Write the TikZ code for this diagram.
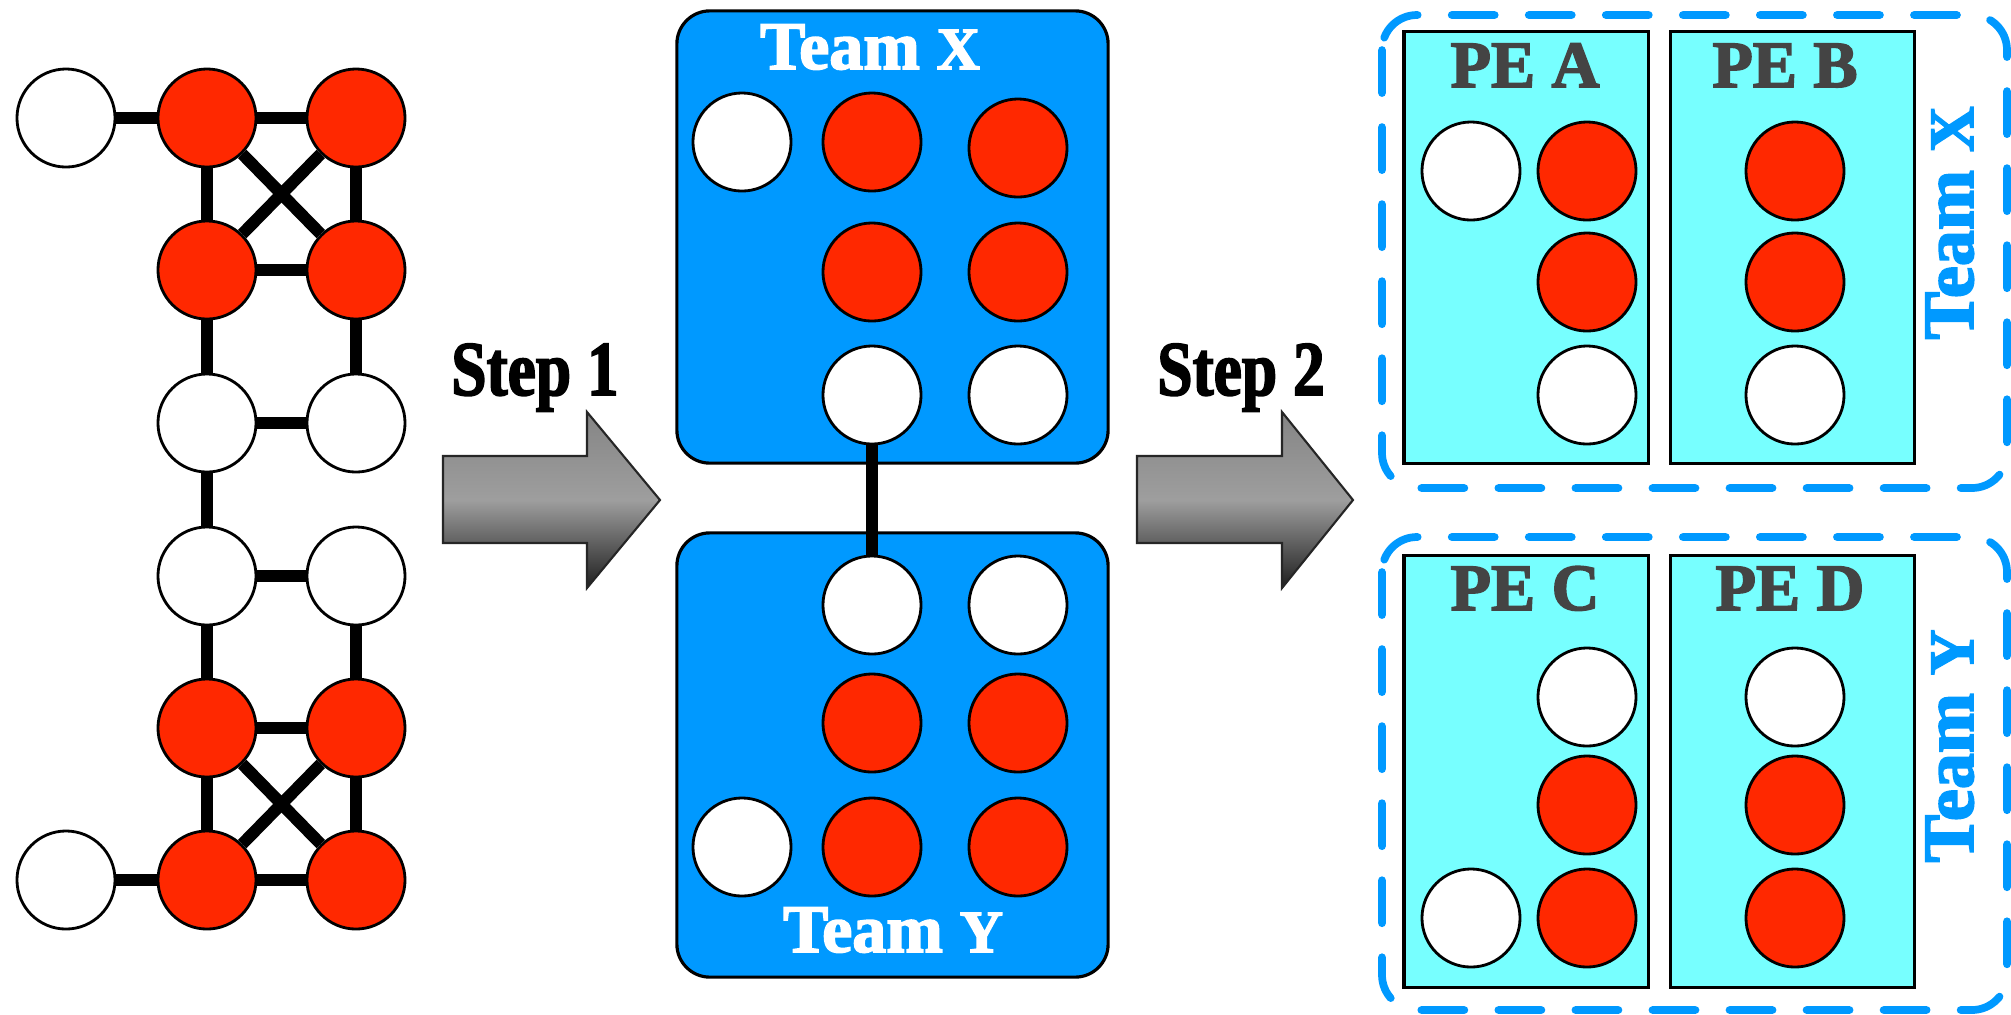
\documentclass[tikz,border=0pt]{standalone}
\usepackage{fontspec}
\setmainfont{Liberation Serif}
\newfontfamily\heavyserif{Liberation Serif}[UprightFont={* Bold}, UprightFeatures={FakeBold=2.5}]
\definecolor{nodered}{RGB}{255,40,0}
\definecolor{teamblue}{RGB}{0,153,255}
\definecolor{pecyan}{RGB}{119,255,255}
\definecolor{pegray}{RGB}{68,68,68}
\newcommand{\teamname}[1]{{\fontsize{19.3}{21}\selectfont Team {\fontsize{17}{19}\selectfont #1}}}
\newcommand{\sideteamname}[1]{{\fontsize{20.5}{22}\selectfont Team {\fontsize{18}{20}\selectfont #1}}}
\newcommand{\stepname}[1]{\scalebox{0.82}[1]{\fontsize{22}{24}\selectfont #1}}
\begin{document}
\begin{tikzpicture}[x=0.01cm, y=-0.01cm,
  vtx/.style={circle, draw=black, line width=0.8pt, minimum size=0.98cm, inner sep=0pt},
  redv/.style={vtx, fill=nodered},
  whitev/.style={vtx, fill=white},
  link/.style={line width=3.4pt},
  teambox/.style={draw=black, line width=0.9pt, fill=teamblue, rounded corners=0.33cm,
    minimum width=4.31cm, inner sep=0pt},
  pebox/.style={draw=black, line width=0.9pt, fill=pecyan, minimum width=2.44cm,
    minimum height=4.31cm, inner sep=0pt},
  groupbox/.style={draw=teamblue, line width=2.2pt, line cap=round, rounded corners=0.35cm,
    dash pattern=on 0.43cm off 0.34cm},
  steparrow/.style={draw=black!85, line width=0.6pt, top color=black!48,
    bottom color=black!88, middle color=black!38},
  steplabel/.style={font=\heavyserif, anchor=base},
  pelabel/.style={font=\heavyserif\fontsize{18.8}{20}\selectfont, text=pegray, anchor=base},
  teamlabel/.style={font=\heavyserif, anchor=base, inner sep=0pt}
]
\useasboundingbox (0,0) rectangle (2011,1014);
\fill[white] (0,0) rectangle (2011,1014);

% ---- input graph ----
\node[whitev] (a10) at (66,118) {};
\node[redv]   (a11) at (207,118) {};
\node[redv]   (a12) at (356,118) {};
\node[redv]   (a21) at (207,270) {};
\node[redv]   (a22) at (356,270) {};
\node[whitev] (a31) at (207,423) {};
\node[whitev] (a32) at (356,423) {};
\node[whitev] (a41) at (207,576) {};
\node[whitev] (a42) at (356,576) {};
\node[redv]   (a51) at (207,728) {};
\node[redv]   (a52) at (356,728) {};
\node[whitev] (a60) at (66,880) {};
\node[redv]   (a61) at (207,880) {};
\node[redv]   (a62) at (356,880) {};
\foreach \u/\v in {a10/a11, a11/a12, a11/a21, a12/a22, a11/a22, a12/a21, a21/a22,
                   a21/a31, a22/a32, a31/a32, a31/a41, a41/a42, a41/a51, a42/a52,
                   a51/a52, a51/a61, a52/a62, a51/a62, a52/a61, a61/a62, a60/a61}
  \draw[link] (\u) -- (\v);

% ---- step arrows ----
\shadedraw[steparrow] (443,456) -- (587,456) -- (587,412) -- (660,500) -- (587,588)
  -- (587,543) -- (443,543) -- cycle;
\node[steplabel] (s1) at (535,395) {\stepname{Step 1}};
\shadedraw[steparrow] (1137,456) -- (1282,456) -- (1282,412) -- (1353,500) -- (1282,588)
  -- (1282,543) -- (1137,543) -- cycle;
\node[steplabel] (s2) at (1241,395) {\stepname{Step 2}};

% ---- teams ----
\node[teambox, minimum height=4.52cm] (tx) at (892.5,237) {};
\node[teambox, minimum height=4.44cm] (ty) at (892.5,755) {};
\node[teamlabel, text=white] (txl) at (870,69) {\teamname{X}};
\node[teamlabel, text=white] (tyl) at (893,952) {\teamname{Y}};

\node[whitev] (x1) at (742,142) {};
\node[redv]   (x2) at (872,142) {};
\node[redv]   (x3) at (1018,148) {};
\node[redv]   (x4) at (872,272) {};
\node[redv]   (x5) at (1018,272) {};
\node[whitev] (x6) at (872,395) {};
\node[whitev] (x7) at (1018,395) {};

\node[whitev] (y1) at (872,605) {};
\node[whitev] (y2) at (1018,605) {};
\node[redv]   (y3) at (872,723) {};
\node[redv]   (y4) at (1018,723) {};
\node[whitev] (y5) at (742,847) {};
\node[redv]   (y6) at (872,847) {};
\node[redv]   (y7) at (1018,847) {};
\draw[link] (x6) -- (y1);

% ---- processing elements ----
\draw[groupbox] (1382,15) rectangle (2007,488);
\draw[groupbox] (1382,537) rectangle (2007,1010);

\node[pebox] (pa) at (1526,247.5) {};
\node[pebox] (pb) at (1792.5,247.5) {};
\node[pebox] (pc) at (1526,771.5) {};
\node[pebox] (pd) at (1792.5,771.5) {};
\node[pelabel] (pal) at (1525,87) {PE A};
\node[pelabel] (pbl) at (1785,87) {PE B};
\node[pelabel] (pcl) at (1525,610) {PE C};
\node[pelabel] (pdl) at (1790,610) {PE D};

\node[whitev] (pa1) at (1471,171) {};
\node[redv]   (pa2) at (1587,171) {};
\node[redv]   (pa3) at (1587,282) {};
\node[whitev] (pa4) at (1587,395) {};
\node[redv]   (pb1) at (1795,171) {};
\node[redv]   (pb2) at (1795,282) {};
\node[whitev] (pb3) at (1795,395) {};

\node[whitev] (pc1) at (1587,697) {};
\node[redv]   (pc2) at (1587,805) {};
\node[whitev] (pc3) at (1471,918) {};
\node[redv]   (pc4) at (1587,918) {};
\node[whitev] (pd1) at (1795,697) {};
\node[redv]   (pd2) at (1795,805) {};
\node[redv]   (pd3) at (1795,918) {};

\node[teamlabel, text=teamblue, rotate=90] (gxl) at (1973,223) {\sideteamname{X}};
\node[teamlabel, text=teamblue, rotate=90] (gyl) at (1973,746) {\sideteamname{Y}};
\end{tikzpicture}
\end{document}
